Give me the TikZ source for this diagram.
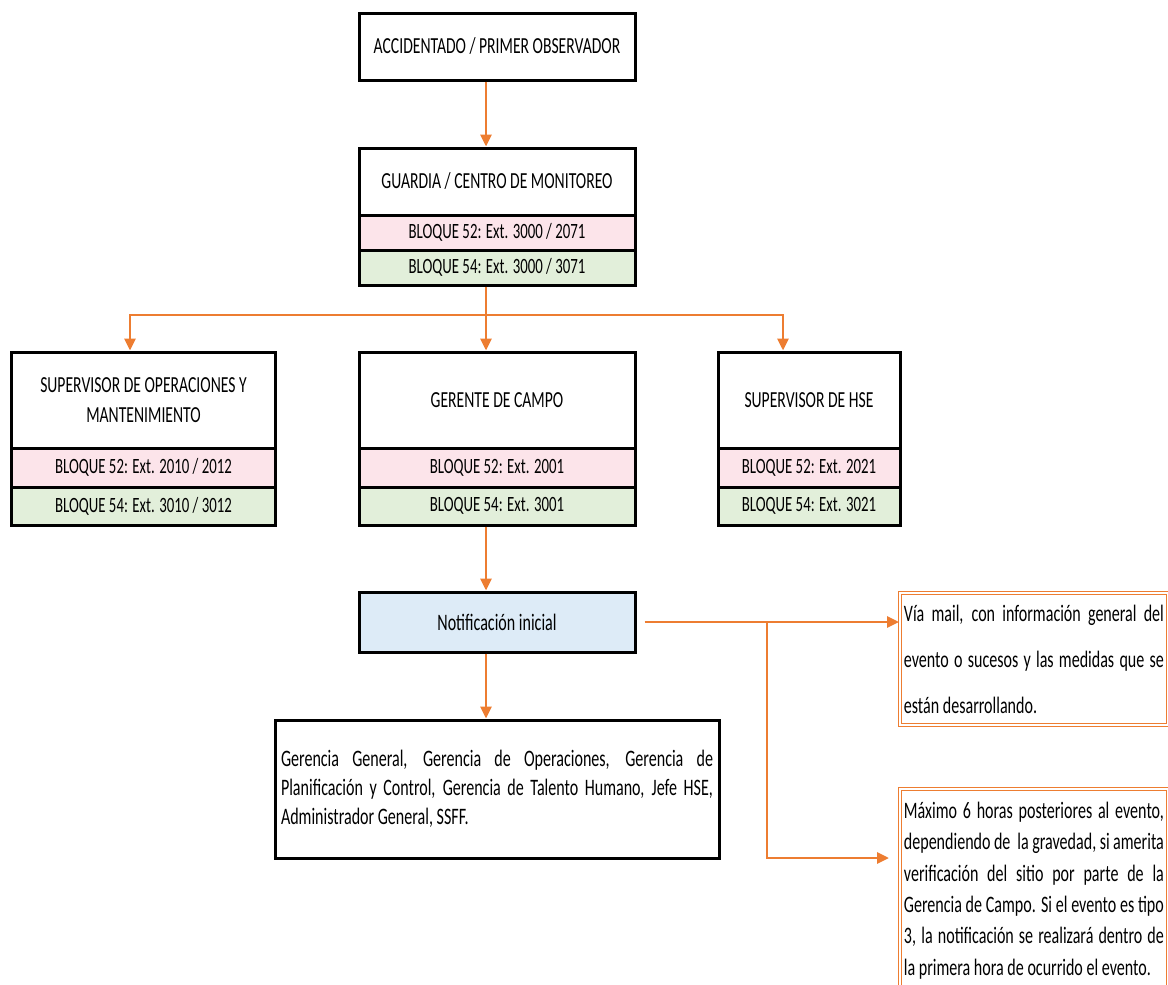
\documentclass[tikz,border=0pt]{standalone}
\usepackage{fontspec}
\setmainfont{Carlito}[FakeStretch=0.68]
\usetikzlibrary{arrows.meta}

\definecolor{naranja}{RGB}{237,125,49}
\definecolor{rosa}{RGB}{252,228,234}
\definecolor{verde}{RGB}{226,239,218}
\definecolor{celeste}{RGB}{221,235,247}

\tikzset{
  caja/.style={draw=black, line width=1.5pt, inner sep=1pt, align=center,
    font=\fontsize{11.5}{15}\selectfont},
  ext/.style={caja, font=\fontsize{10.9}{13}\selectfont},
  flecha/.style={draw=naranja, line width=1.4pt, -{Triangle[length=6pt,width=5.5pt]}},
  nota/.style={draw=naranja, double=white, double distance=0.6pt, line width=0.9pt,
    align=justify, inner xsep=2pt}
}

\begin{document}
\begin{tikzpicture}[x=0.5pt,y=-0.5pt]
\useasboundingbox (0,0) rectangle (1168,985);

% primer nivel
\node[caja, minimum width=138pt, minimum height=33.5pt] (acc) at (497,46.5) {ACCIDENTADO / PRIMER OBSERVADOR};

\node[caja, minimum width=138pt, minimum height=33.5pt] (guard) at (497,181.5) {GUARDIA / CENTRO DE MONITOREO};
\node[ext, fill=rosa, minimum width=138pt, minimum height=17.5pt] (guard52) at (497,232.5) {BLOQUE 52: Ext. 3000 / 2071};
\node[ext, fill=verde, minimum width=138pt, minimum height=17.5pt] (guard54) at (497,267.5) {BLOQUE 54: Ext. 3000 / 3071};

% segundo nivel
\node[caja, minimum width=132pt, minimum height=48pt] (supop) at (143.5,400) {SUPERVISOR DE OPERACIONES Y\\MANTENIMIENTO};
\node[ext, fill=rosa, minimum width=132pt, minimum height=19.5pt] (supop52) at (143.5,467.5) {BLOQUE 52: Ext. 2010 / 2012};
\node[ext, fill=verde, minimum width=132pt, minimum height=19pt] (supop54) at (143.5,506) {BLOQUE 54: Ext. 3010 / 3012};

\node[caja, minimum width=138pt, minimum height=48pt] (gerente) at (497,400) {GERENTE DE CAMPO};
\node[ext, fill=rosa, minimum width=138pt, minimum height=19.5pt] (gerente52) at (497,467.5) {BLOQUE 52: Ext. 2001};
\node[ext, fill=verde, minimum width=138pt, minimum height=19pt] (gerente54) at (497,506) {BLOQUE 54: Ext. 3001};

\node[caja, minimum width=91pt, minimum height=48pt] (suphse) at (809,400) {SUPERVISOR DE HSE};
\node[ext, fill=rosa, minimum width=91pt, minimum height=19.5pt] (suphse52) at (809,467.5) {BLOQUE 52: Ext. 2021};
\node[ext, fill=verde, minimum width=91pt, minimum height=19pt] (suphse54) at (809,506) {BLOQUE 54: Ext. 3021};

% notificacion
\node[caja, fill=celeste, minimum width=138pt, minimum height=30pt,
  font=\fontsize{11.8}{14}\selectfont] (notif) at (497,622) {Notificación inicial};
\node[caja, minimum width=222pt, minimum height=69pt, text width=216pt, align=justify,
  font=\fontsize{11.8}{14.5}\selectfont] (gerencias) at (497,789)
  {Gerencia General, Gerencia de Operaciones, Gerencia de\linebreak
   Planificación y Control, Gerencia de Talento Humano, Jefe HSE,\linebreak
   Administrador General, SSFF.};

\node[nota, anchor=north west, text width=130pt, minimum height=66pt,
  font=\fontsize{11.8}{23}\selectfont] (mail) at (899,592)
  {Vía mail, con información general del\linebreak
   evento o sucesos y las medidas que se\linebreak
   están desarrollando.};
\node[nota, anchor=north west, text width=130pt, inner ysep=6.5pt,
  font=\fontsize{11.8}{15.7}\selectfont] (plazo) at (899,788)
  {Máximo 6 horas posteriores al evento,\linebreak
   dependiendo de~ la gravedad, si amerita\linebreak
   verificación del sitio por parte de la\linebreak
   Gerencia de Campo. Si el evento es tipo\linebreak
   3, la notificación se realizará dentro de\linebreak
   la primera hora de ocurrido el evento.};

% conectores
\coordinate (cruce) at (486,315);
\coordinate (rama) at (767,622);
\coordinate (fin) at (889,858);
\draw[flecha] ([xshift=-5.5pt]acc.south) -- ([xshift=-5.5pt]guard.north);
\draw[flecha] ([xshift=-5.5pt]guard54.south) -- ([xshift=-5.5pt]gerente.north);
\draw[flecha] (cruce) -| ([xshift=-6.75pt]supop.north);
\draw[flecha] (cruce) -| ([xshift=-13pt]suphse.north);
\draw[flecha] ([xshift=-5.5pt]gerente54.south) -- ([xshift=-5.5pt]notif.north);
\draw[flecha] ([xshift=-5.5pt]notif.south) -- ([xshift=-5.5pt]gerencias.north);
\draw[flecha] ([xshift=4pt]notif.east) -- (notif.east -| mail.west);
\draw[flecha] (rama) |- (fin);
\end{tikzpicture}
\end{document}
